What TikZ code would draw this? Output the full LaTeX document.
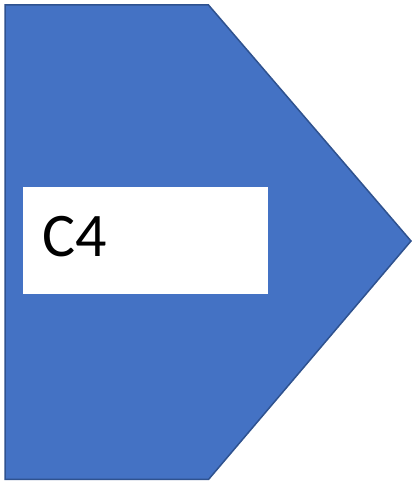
\documentclass[tikz,border=0pt]{standalone}
\usepackage{fontspec}
\setmainfont{Carlito}
\definecolor{fillblue}{HTML}{4472C4}
\definecolor{edgeblue}{HTML}{2F528F}
\begin{document}
\begin{tikzpicture}[x=1pt,y=1pt,
  pent/.style={fill=fillblue,draw=edgeblue,line width=1.5pt,line join=miter},
  labelbox/.style={fill=white,draw=none},
  labeltext/.style={font=\fontsize{62}{62}\selectfont,text=black,inner sep=0pt}]
\useasboundingbox (0,0) rectangle (414,482);
\coordinate (tl) at (5,477);
\coordinate (tr) at (208.5,477);
\coordinate (tip) at (411,241);
\coordinate (br) at (208.5,2.5);
\coordinate (bl) at (5,2.5);
\draw[pent] (tl) -- (tr) -- (tip) -- (br) -- (bl) -- cycle;
\fill[labelbox] (22.5,295) rectangle (268,188);
\node[labeltext,anchor=base west] (c4) at (42,225) {C4};
\end{tikzpicture}
\end{document}
